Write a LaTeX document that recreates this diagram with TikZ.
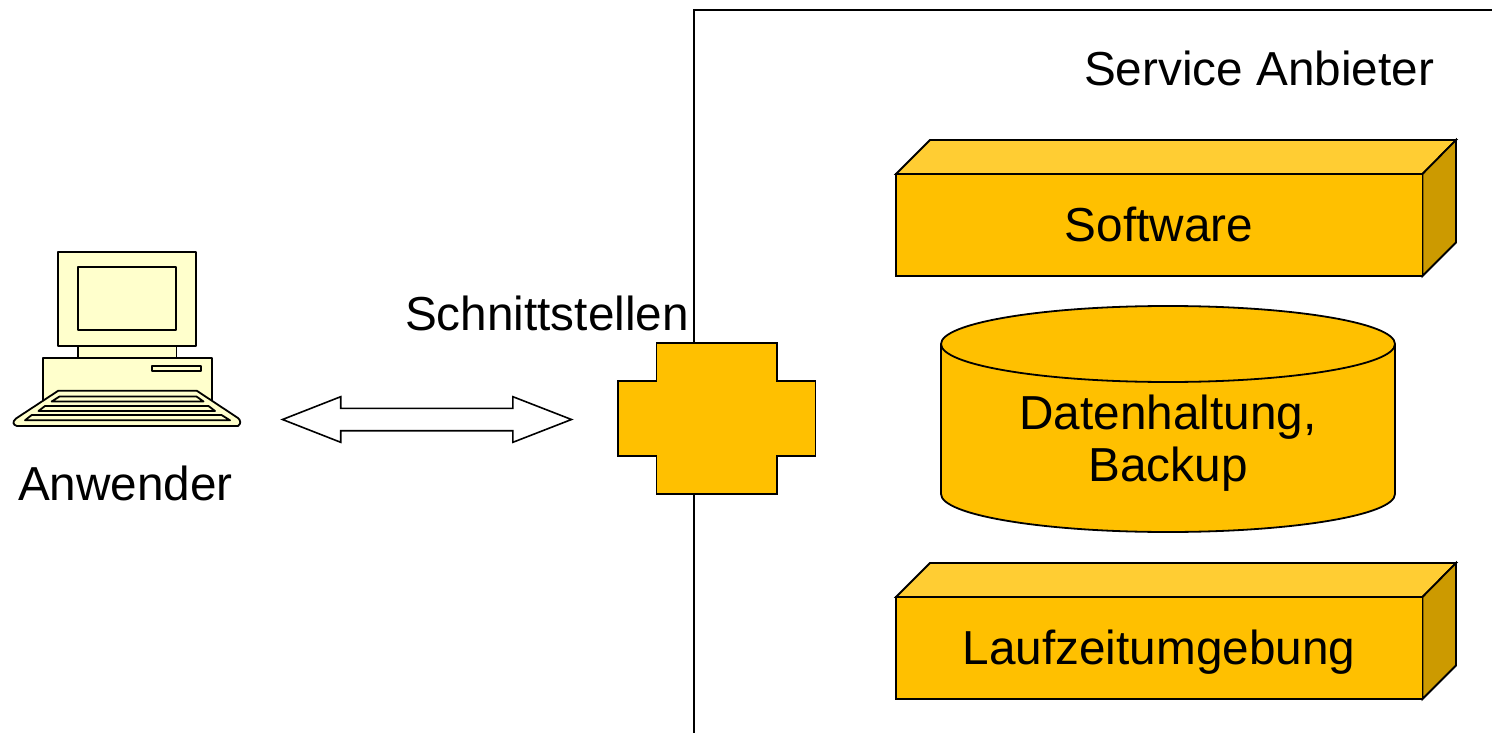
\documentclass[tikz,border=0pt]{standalone}
\usepackage{fontspec}
\setmainfont{Liberation Sans}
\definecolor{amber}{HTML}{FFC000}
\definecolor{amberTop}{HTML}{FFCD33}
\definecolor{amberSide}{HTML}{CC9A00}
\definecolor{pale}{HTML}{FFFFCC}
\tikzset{
  outline/.style={draw=black,line width=1.8pt,line join=miter},
  amberpart/.style={outline,fill=amber},
  pcpart/.style={draw=black,line width=1.8pt,fill=pale,line join=round},
  label/.style={font=\fontsize{47.7}{52}\selectfont,anchor=base,inner sep=0pt,outer sep=0pt,text=black}
}
\newcommand{\blockbox}[1]{%
  \begin{scope}[yshift=-#1pt]
    \fill[amberTop] (896,174) -- (930,140) -- (1456,140) -- (1422.5,174) -- cycle;
    \draw[outline] (896,174) -- (930,140) -- (1456,140) -- (1422.5,174) -- cycle;
    \draw[outline,fill=amberSide] (1422.5,174) -- (1456,140) -- (1456,242.5) -- (1422.5,276) -- cycle;
    \draw[amberpart] (896,174) rectangle (1422.5,276);
  \end{scope}}
\begin{document}
\begin{tikzpicture}[x=1pt,y=-1pt]
\useasboundingbox (0,0) rectangle (1492,733);
% provider frame
\coordinate (frameB) at (694,733);
\coordinate (frameC) at (694,10);
\coordinate (frameR) at (1492,10);
\draw[black,line width=1.8pt] (frameB) -- (frameC) -- (frameR);
% blocks
\blockbox{0}
\blockbox{423}
% cylinder
\draw[amberpart] (941,344) -- (941,494) arc[start angle=180,end angle=0,x radius=227,y radius=38] -- (1395,344);
\draw[amberpart] (1168,344) ellipse[x radius=227,y radius=38];
% interface cross
\draw[amberpart] (656.5,342.7) -- (777,342.7) -- (777,380.7) -- (815.5,380.7) -- (815.5,455.7) -- (777,455.7) -- (777,493.7) -- (656.5,493.7) -- (656.5,455.7) -- (618,455.7) -- (618,380.7) -- (656.5,380.7) -- cycle;
% double arrow
\draw[draw=black,line width=1.6pt,fill=white,line join=miter] (282.5,419.5) -- (340.7,396.7) -- (340.7,408.3) -- (512.9,408.3) -- (512.9,396.7) -- (571.5,419.5) -- (512.9,442.3) -- (512.9,430.7) -- (340.7,430.7) -- (340.7,442.3) -- cycle;
% computer
\draw[pcpart] (78,346) rectangle (176.5,358);
\draw[pcpart] (42.7,358) rectangle (211.7,402);
\draw[pcpart] (58.3,251.7) rectangle (195.7,346);
\draw[pcpart] (77.7,266.7) rectangle (176.3,330.3);
\draw[pcpart] (151.7,365.7) rectangle (201,371.3);
\draw[pcpart] (58.3,390.7) -- (196.7,390.7) -- (238,418) .. controls (241,420.5) and (241,424) .. (238,426) -- (17,426) .. controls (13,425) and (12,422) .. (16,418.5) -- cycle;
\draw[pcpart] (59.5,396.5) -- (196.5,396.5) -- (203.5,401.5) -- (51.7,401.5) -- cycle;
\draw[pcpart] (45,406) -- (208.5,406) -- (215,411) -- (38.5,411) -- cycle;
\draw[pcpart] (31.7,415) -- (221.5,415) -- (230,420.3) -- (25,420.3) -- cycle;
% labels
\node[label] (service) at (1259,86) {Service Anbieter};
\node[label] (software) at (1159,241) {Software};
\node[label] (daten) at (1168,429) {Datenhaltung,};
\node[label] (backup) at (1168,481) {Backup};
\node[label] (laufzeit) at (1159,664) {Laufzeitumgebung};
\node[label] (schnitt) at (547,330) {Schnittstellen};
\node[label] (anwender) at (125.5,500) {Anwender};
\end{tikzpicture}
\end{document}
